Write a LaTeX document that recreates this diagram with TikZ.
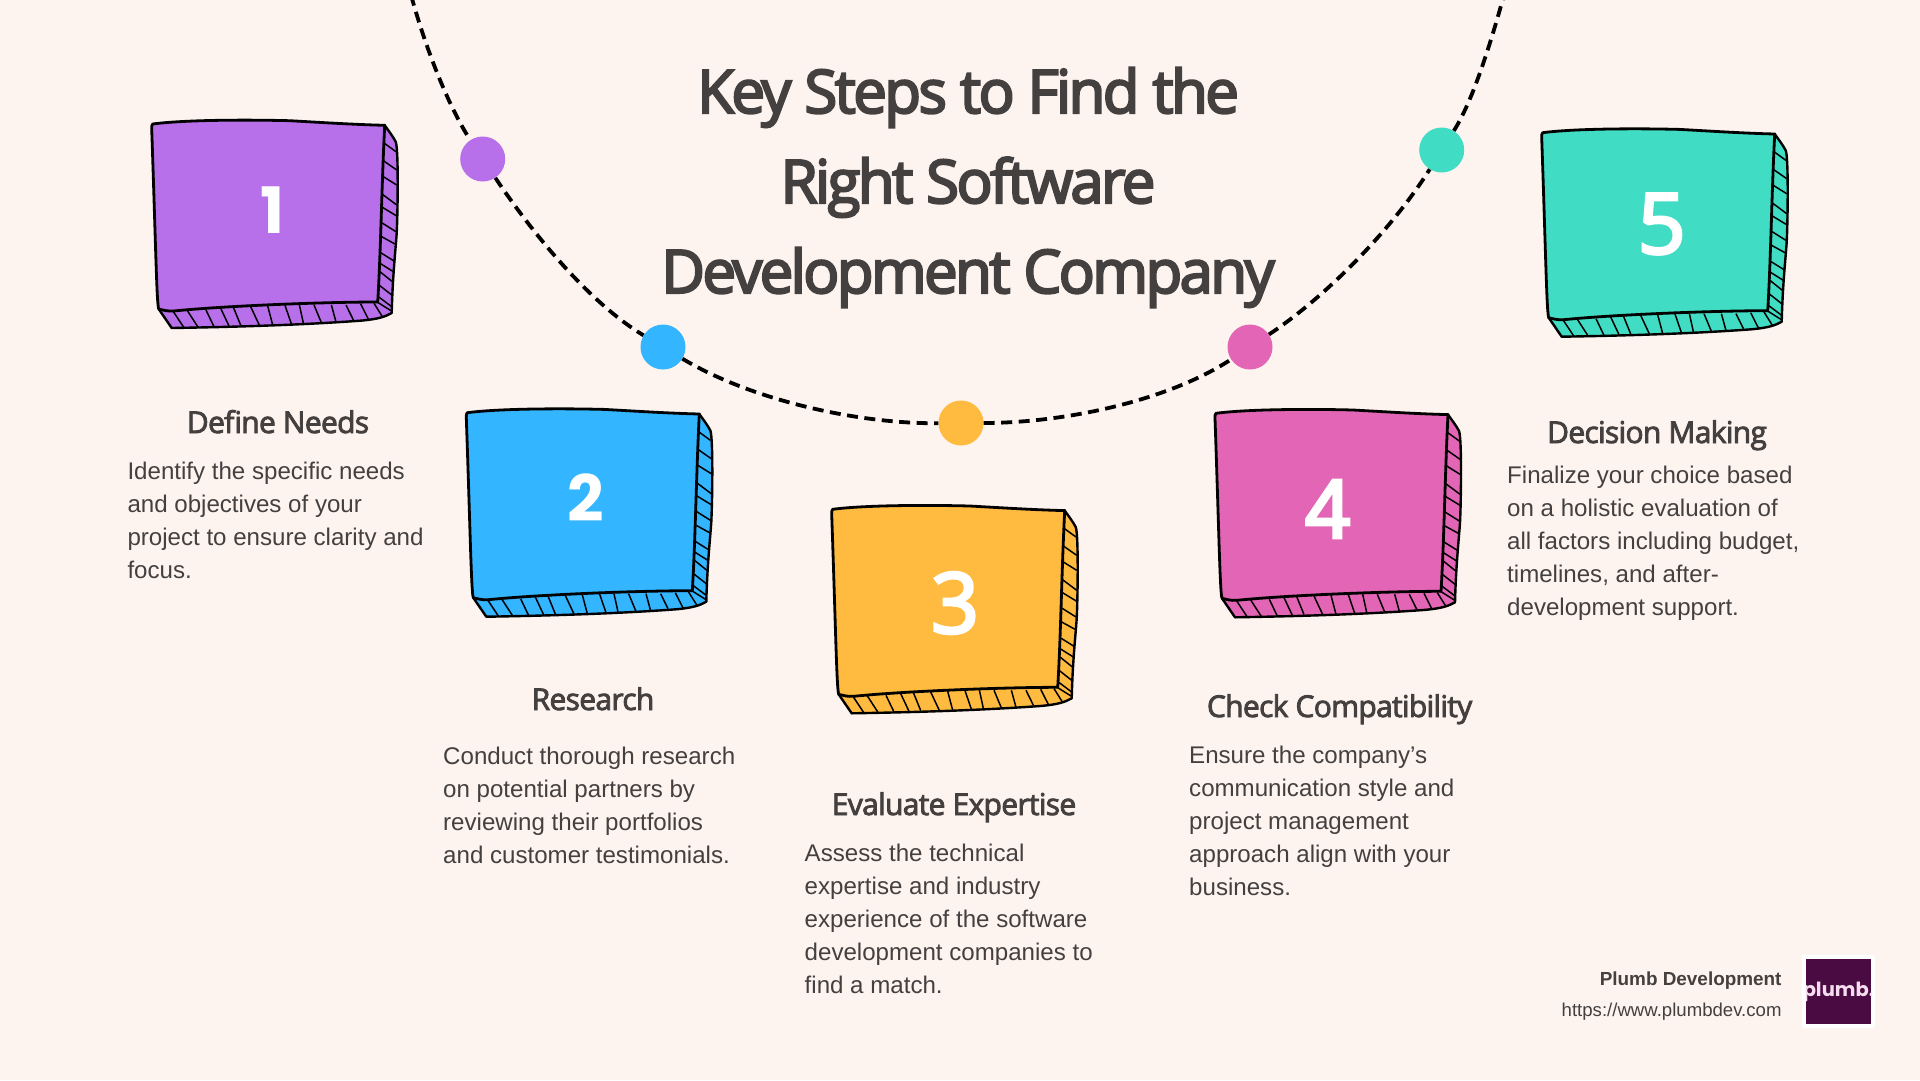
\documentclass[tikz,border=0pt]{standalone}
\usepackage{fontspec}
\setmainfont{Liberation Sans}
\newfontfamily\titlefont[LetterSpace=-4.4,FakeBold=3.6]{Open Sans}
\newfontfamily\headfont[LetterSpace=-2.3,FakeBold=2.8]{Open Sans}
\newfontfamily\bodyfont{Liberation Sans}
\newfontfamily\popfont{Poppins}
\newfontfamily\opfont[FakeBold=3.5]{Open Sans}
\newfontfamily\fourfont[FakeBold=3.5]{Liberation Sans}
\definecolor{bgc}{HTML}{FDF4EF}
\definecolor{ink}{HTML}{444040}
\definecolor{cpurple}{HTML}{B76FEA}
\definecolor{cblue}{HTML}{33B5FF}
\definecolor{camber}{HTML}{FFBA40}
\definecolor{cpink}{HTML}{E266B5}
\definecolor{cteal}{HTML}{41DCC4}
\definecolor{logoc}{HTML}{4A0B42}
\definecolor{logot}{HTML}{F5DCEE}
\tikzset{
  dot/.style={circle,inner sep=0pt,minimum size=45pt},
  arcline/.style={line width=3.8pt,black,dash pattern=on 11pt off 6.5pt},
  headtxt/.style={font=\headfont\fontsize{30}{30}\selectfont,text=ink,inner sep=0pt,anchor=base},
  bodytxt/.style={font=\bodyfont\fontsize{24.1}{33}\selectfont,text=ink,align=left,inner sep=0pt,anchor=base west},
  digit/.style={text=white,inner sep=0pt,anchor=center},
}
\newcommand{\sketchbox}[3]{%
\begin{scope}[shift={(#1,#2)}]
  \draw[fill=#3,line width=2.4pt,line join=round]
    (232,1.3) .. controls (236,7) and (240,12) .. (243,17.7)
    .. controls (246,25) and (245,90) .. (244,109)
    .. controls (243,125) and (240,150) .. (239,189)
    .. controls (232,193) and (225,195) .. (210,196.5)
    .. controls (150,201) and (80,203) .. (19,204) -- (6,185) -- cycle;
  \foreach \a/\b/\c/\d in {231.7/19.3/243.3/27.7,230.7/36.7/244/46,230.7/52.7/244/61,229.7/70.3/244/81,229.7/83.3/244/92,229/98.7/243.3/107.7,229/112.7/242.3/120,228/128.7/241.3/137,227.3/139.3/240.7/147.7,227.3/147.7/239.7/157.7,226.3/161/239/171,225.7/172.7/239/182.7,224/177.7/238.3/186.7,
  20.7/187.7/31.3/203.7,34.7/186.7/45.7/203.7,53.3/186/61.3/202.7,68/184.3/76.3/202,80.7/183.3/88/201.3,98/182.7/106.7/201.3,115/182/120/201,132.3/181.3/138.7/200,146.7/181/150.7/199.3,161.3/181/168.7/198.7,178.7/181/183.3/198,193.3/181/200.7/196,208/180/215.7/195.3,221.3/179.3/229.7/192.7}
    \draw[line width=1.5pt] (\a,\b) -- (\c,\d);
  \draw[fill=#3,line width=2.8pt,line join=round]
    (0,0) .. controls (30,-4) and (90,-4.5) .. (137,-3.3)
    .. controls (170,-1.5) and (200,0.5) .. (232,1.3)
    .. controls (229,60) and (228,130) .. (225,178)
    .. controls (170,178) and (70,182) .. (21,187)
    .. controls (15,187.5) and (10,186) .. (6,185)
    .. controls (4,180) and (3,120) .. (-1,5)
    .. controls (-1,2) and (-1,1) .. (0,0) -- cycle;
\end{scope}}
\begin{document}
\begin{tikzpicture}[x=1pt,y=-1pt]
\useasboundingbox (0,0) rectangle (1920,1080);
\fill[bgc] (0,0) rectangle (1920,1080);
\clip (0,0) rectangle (1920,1080);

% dots
\node[dot,fill=cpurple] (d1) at (482.7,159) {};
\node[dot,fill=cblue] (d2) at (663,347) {};
\node[dot,fill=camber] (d3) at (961,423) {};
\node[dot,fill=cpink] (d4) at (1250,347) {};
\node[dot,fill=cteal] (d5) at (1441.7,150) {};
\coordinate (tl) at (411,-5);
\coordinate (tr) at (1504,-5);
% arc
\draw[arcline] (tl) .. controls (427,53) and (450,109) .. (d1);
\draw[arcline] (d1) .. controls (531,231) and (588,302) .. (d2);
\draw[arcline] (d2) .. controls (751,400) and (858,424) .. (d3);
\draw[arcline] (d3) .. controls (1061,423) and (1166,402) .. (d4);
\draw[arcline] (d4) .. controls (1327,296) and (1393,228) .. (d5);
\draw[arcline] (d5) .. controls (1472,102) and (1489,49) .. (tr);

% title
\node[font=\titlefont\fontsize{60}{90}\selectfont,text=ink,align=center,inner sep=0pt,anchor=base] (title) at (968,293)
  {Key Steps to Find the\\Right Software\\Development Company};

% boxes
\sketchbox{152.7}{124}{cpurple}
\sketchbox{467.3}{412.7}{cblue}
\sketchbox{832.7}{509.3}{camber}
\sketchbox{1216}{413.3}{cpink}
\sketchbox{1542.7}{132.7}{cteal}

\node[digit,font=\popfont\bfseries\fontsize{64}{64}\selectfont] (n1) at (273,210) {1};
\node[digit,font=\popfont\bfseries\fontsize{64}{64}\selectfont] (n2) at (585.7,497.7) {2};
\node[digit,font=\opfont\fontsize{84}{84}\selectfont] (n3) at (955,603) {3};
\node[digit,font=\fourfont\fontsize{84}{84}\selectfont] (n4) at (1328,509) {4};
\node[digit,font=\opfont\fontsize{84}{84}\selectfont] (n5) at (1661.7,224) {5};

% headings
\node[headtxt] (h1) at (278,433) {Define Needs};
\node[headtxt] (h2) at (593,710) {Research};
\node[headtxt] (h3) at (954,815) {Evaluate Expertise};
\node[headtxt] (h4) at (1339.6,717) {Check Compatibility};
\node[headtxt] (h5) at (1657,443) {Decision Making};

% bodies
\node[bodytxt] (b1) at (127.3,578) {Identify the specific needs\\and objectives of your\\project to ensure clarity and\\focus.};
\node[bodytxt] (b2) at (443,863) {Conduct thorough research\\on potential partners by\\reviewing their portfolios\\and customer testimonials.};
\node[bodytxt] (b3) at (804.5,993) {Assess the technical\\expertise and industry\\experience of the software\\development companies to\\find a match.};
\node[bodytxt] (b4) at (1189,895) {Ensure the company’s\\communication style and\\project management\\approach align with your\\business.};
\node[bodytxt] (b5) at (1507,615) {Finalize your choice based\\on a holistic evaluation of\\all factors including budget,\\timelines, and after-\\development support.};

% footer
\node[font=\bodyfont\bfseries\fontsize{18.9}{20}\selectfont,text=ink,inner sep=0pt,anchor=base east] (f1) at (1781.7,985) {Plumb Development};
\node[font=\bodyfont\fontsize{18.6}{20}\selectfont,text=ink,inner sep=0pt,anchor=base east] (f2) at (1781.7,1016.7) {https://www.plumbdev.com};
\fill[white,rounded corners=3pt] (1801.7,955) rectangle (1875,1028);
\fill[logoc] (1806,959) rectangle (1871,1024);
\begin{scope}
  \clip (1806,959) rectangle (1871,1024);
  \node[font=\popfont\bfseries\fontsize{19.5}{19.5}\selectfont,text=logot,inner sep=0pt] (logo) at (1838.5,992) {plumb.};
\end{scope}
\end{tikzpicture}
\end{document}
